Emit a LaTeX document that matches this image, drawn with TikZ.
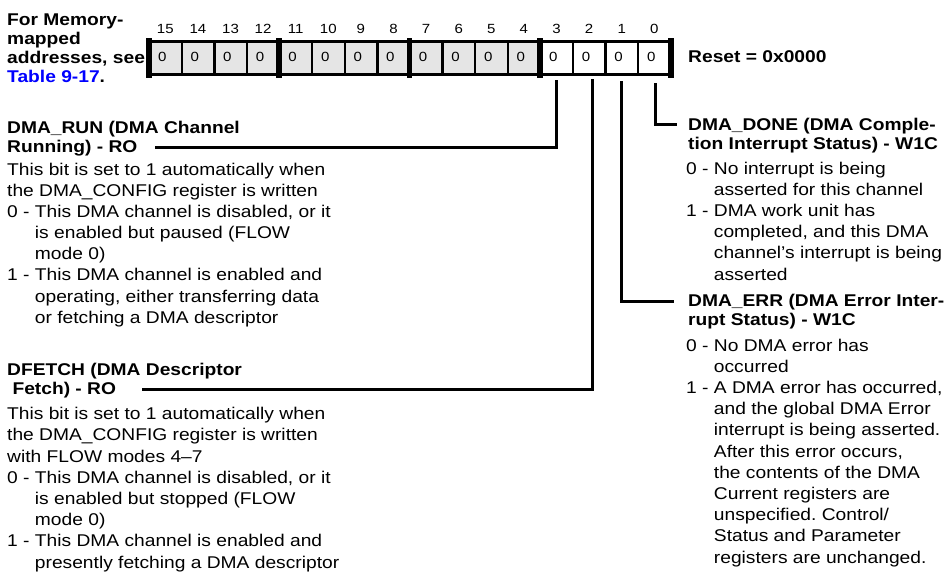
\documentclass[tikz,border=0pt]{standalone}
\usepackage{fontspec}
\setmainfont{Liberation Sans}[FakeStretch=1.13]
\usetikzlibrary{positioning,calc}
\frenchspacing

\definecolor{regfill}{gray}{0.9}
\definecolor{linkblue}{RGB}{0,0,255}
\newcommand{\bodytext}{\fontsize{17}{21.2}\selectfont}
\newcommand{\headtext}{\fontsize{17}{19}\selectfont\bfseries}
\newcommand{\bittext}{\fontsize{13.3}{15}\selectfont}
\newcommand{\contind}{\hphantom{0 -\ }}

\begin{document}
\begin{tikzpicture}[x=1pt,y=-1pt,
    cell/.style={minimum width=32.6pt,minimum height=33pt,inner sep=0pt},
    bitnum/.style={font=\bittext,inner sep=0pt,anchor=base},
    bitval/.style={font=\bittext,inner sep=0pt,anchor=base west},
    head/.style={font=\headtext,align=left,inner sep=0pt,anchor=base west},
    body/.style={font=\bodytext,align=left,inner sep=0pt,anchor=base west},
    leader/.style={line width=3pt},
    nibble/.style={line width=5.5pt},
    bitsep/.style={line width=2.5pt}]
\useasboundingbox (0,0) rectangle (951,572);

% Register cells, bits 15..4 shaded, 3..0 white
\foreach \b in {4,...,15} {
    \node[cell,fill=regfill] (b\b) at ({149+(15-\b)*32.6+16.3},58) {};
}
\foreach \b in {0,...,3} {
    \node[cell,fill=white] (b\b) at ({149+(15-\b)*32.6+16.3},58) {};
}
% Bit numbers and reset values
\foreach \b in {0,...,15} {
    \node[bitnum] (n\b) at ($(b\b.north)+(0,-7.5)$) {\b};
    \node[bitval] (v\b) at ($(b\b.west)+(9,3.7)$) {0};
}

% Frame and separators
\draw[line width=3.5pt] (b15.north west) rectangle (b0.south east);
\foreach \b in {1,2,3,5,6,7,9,10,11,13,14,15} {
    \draw[bitsep] (b\b.north east) -- (b\b.south east);
}
\foreach \b in {15,11,7,3} {
    \draw[nibble] ([yshift=3pt]b\b.north west) -- ([yshift=-3pt]b\b.south west);
}
\draw[nibble] ([yshift=3pt]b0.north east) -- ([yshift=-3pt]b0.south east);

% Side texts (base = last line)
\node[head] (memhd) at (7,83) {For Memory-\\mapped\\addresses, see\\\textcolor{linkblue}{Table 9-17}.};
\node[head] (reset) at (688,63) {Reset = 0x0000};

% Bit 3
\node[head] (runhd) at (7,152.5) {DMA\_RUN (DMA Channel\\Running) - RO};
\node[body] (runtx) at (7,323.4) {This bit is set to 1 automatically when\\
the DMA\_CONFIG register is written\\
0 - This DMA channel is disabled, or it\\
\contind is enabled but paused (FLOW\\
\contind mode 0)\\
1 - This DMA channel is enabled and\\
\contind operating, either transferring data\\
\contind or fetching a DMA descriptor};

% Bit 2
\node[head] (fetchhd) at (7,394) {DFETCH (DMA Descriptor\\\ Fetch) - RO};
\node[body] (fetchtx) at (7,568) {This bit is set to 1 automatically when\\
the DMA\_CONFIG register is written\\
with FLOW modes 4--7\\
0 - This DMA channel is disabled, or it\\
\contind is enabled but stopped (FLOW\\
\contind mode 0)\\
1 - This DMA channel is enabled and\\
\contind presently fetching a DMA descriptor};

% Bit 0
\node[head] (donehd) at (688,150) {DMA\_DONE (DMA Comple-\\tion Interrupt Status) - W1C};
\node[body] (donetx) at (686,280) {0 - No interrupt is being\\
\contind asserted for this channel\\
1 - DMA work unit has\\
\contind completed, and this DMA\\
\contind channel's interrupt is being\\
\contind asserted};

% Bit 1
\node[head] (errhd) at (688,325) {DMA\_ERR (DMA Error Inter-\\rupt Status) - W1C};
\node[body] (errtx) at (686,563) {0 - No DMA error has\\
\contind occurred\\
1 - A DMA error has occurred,\\
\contind and the global DMA Error\\
\contind interrupt is being asserted.\\
\contind After this error occurs,\\
\contind the contents of the DMA\\
\contind Current registers are\\
\contind unspecified. Control/\\
\contind Status and Parameter\\
\contind registers are unchanged.};

% Leader lines
\coordinate (runlead) at (155,148);
\coordinate (fetchlead) at (142,389);
\coordinate (donelead) at (677,125);
\coordinate (errlead) at (674,302);
\draw[leader] ([yshift=-5.5pt]b3.south) |- (runlead);
\draw[leader] ([xshift=3pt,yshift=-4.5pt]b2.south) |- (fetchlead);
\draw[leader] ([yshift=-6.5pt]b1.south) |- (errlead);
\draw[leader] ([xshift=1.5pt,yshift=-8.5pt]b0.south) |- (donelead);

\end{tikzpicture}
\end{document}
